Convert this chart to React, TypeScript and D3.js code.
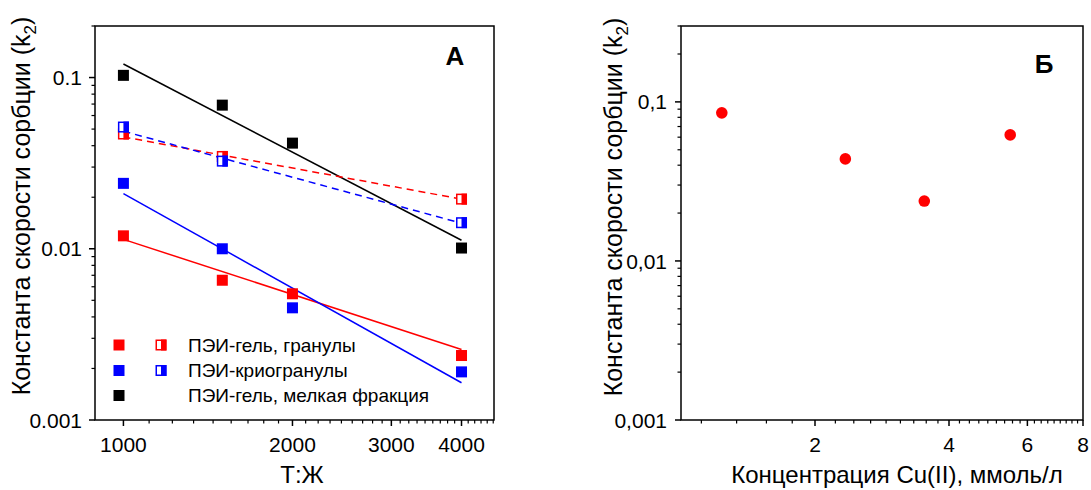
import React from "react";
import * as d3 from "d3";

// ---- Panel A data ----
const txRatios = [1000, 1500, 2000, 4000];
const gelGranulesK = [0.0119, 0.00655, 0.00546, 0.00238];
const cryoGranulesK = [0.0241, 0.01, 0.00452, 0.00191];
const fineFractionK = [0.103, 0.069, 0.0414, 0.0101];
const txHalfRatios = [1000, 1500, 4000];
const gelGranulesHalfK = [0.0468, 0.0346, 0.0195];
const cryoGranulesHalfK = [0.0514, 0.0325, 0.0142];
const fitX = [1000, 4000];
const fitGel = [0.01135, 0.00258];
const fitCryo = [0.021, 0.00165];
const fitFine = [0.12, 0.01122];
const fitGelHalf = [0.045, 0.0195];
const fitCryoHalf = [0.0486, 0.0141];
const xTicksA = [1000, 2000, 3000, 4000];
const yTicksA = [0.1, 0.01, 0.001];
const yTickLabelsA = ["0.1", "0.01", "0.001"];
const legendLabels = ["ПЭИ-гель, гранулы", "ПЭИ-криогранулы", "ПЭИ-гель, мелкая фракция"];

// ---- Panel B data ----
const cuConc = [1.235, 2.34, 3.52, 5.49];
const cuK = [0.0853, 0.0438, 0.0238, 0.062];
const xTicksB = [2, 4, 6, 8];
const yTicksB = [0.1, 0.01, 0.001];
const yTickLabelsB = ["0,1", "0,01", "0,001"];

const RED = "#ff0000";
const BLUE = "#0000ff";
const BLACK = "#000000";
const FONT = 'Arial, "Liberation Sans", sans-serif';

const TOP = 26;
const BOTTOM = 420;
const TICK_FS = 21;
const TITLE_FS = 24;
const YLAB_FS = 25;

function minorLogY(domain: number[]) {
  const out: number[] = [];
  for (let e = -4; e <= 1; e++) {
    for (let m = 2; m <= 9; m++) {
      const v = m * Math.pow(10, e);
      if (v > domain[0] * 1.0001 && v < domain[1] * 1.0001) out.push(v);
    }
  }
  return out;
}

function minorLinear(domain: number[], major: number, n: number) {
  const step = major / (n + 1);
  const out: number[] = [];
  for (let i = 0; i * step <= domain[1] * 1.0001; i++) {
    const v = i * step;
    if (i % (n + 1) === 0) continue;
    if (v > domain[0] * 1.001 && v < domain[1] * 1.0001) out.push(v);
  }
  return out;
}

function Sq({ x, y, c }: { x: number; y: number; c: string }) {
  return <rect x={x - 5.5} y={y - 5.5} width={11} height={11} fill={c} />;
}

function HalfSq({ x, y, c }: { x: number; y: number; c: string }) {
  return (
    <g>
      <rect x={x - 4.75} y={y - 4.75} width={9.5} height={9.5} fill="#fff" stroke={c} strokeWidth={1.5} />
      <rect x={x} y={y - 5.5} width={5.5} height={11} fill={c} />
    </g>
  );
}

function Frame({ x0, x1 }: { x0: number; x1: number }) {
  return <rect x={x0} y={TOP} width={x1 - x0} height={BOTTOM - TOP} fill="none" stroke="#000" strokeWidth={1.5} />;
}

function YLabel({ x, y }: { x: number; y: number }) {
  return (
    <text transform={`translate(${x},${y}) rotate(-90)`} textAnchor="middle" fontSize={YLAB_FS}>
      Константа скорости сорбции (k<tspan fontSize={17} dy={6}>2</tspan><tspan dy={-6}>)</tspan>
    </text>
  );
}

function PanelA() {
  const x = d3.scaleLog().domain([890, 4570]).range([95, 494]);
  const y = d3.scaleLog().domain([0.001, 0.2]).range([BOTTOM, TOP]);
  const line = (ys: number[]) =>
    d3.line<number>().x((_, i) => x(fitX[i])).y((d) => y(d))(ys) as string;
  const xMinor = minorLinear(x.domain(), 1000, 8);
  const yMinor = minorLogY(y.domain());
  return (
    <g>
      <path d={line(fitGel)} stroke={RED} strokeWidth={1.5} fill="none" />
      <path d={line(fitCryo)} stroke={BLUE} strokeWidth={1.5} fill="none" />
      <path d={line(fitFine)} stroke={BLACK} strokeWidth={1.5} fill="none" />
      <path d={line(fitGelHalf)} stroke={RED} strokeWidth={1.5} fill="none" strokeDasharray="7,5" />
      <path d={line(fitCryoHalf)} stroke={BLUE} strokeWidth={1.5} fill="none" strokeDasharray="7,5" />
      {txRatios.map((t, i) => <Sq key={"r" + i} x={x(t)} y={y(gelGranulesK[i])} c={RED} />)}
      {txRatios.map((t, i) => <Sq key={"b" + i} x={x(t)} y={y(cryoGranulesK[i])} c={BLUE} />)}
      {txRatios.map((t, i) => <Sq key={"k" + i} x={x(t)} y={y(fineFractionK[i])} c={BLACK} />)}
      {txHalfRatios.map((t, i) => <HalfSq key={"rh" + i} x={x(t)} y={y(gelGranulesHalfK[i])} c={RED} />)}
      {txHalfRatios.map((t, i) => <HalfSq key={"bh" + i} x={x(t)} y={y(cryoGranulesHalfK[i])} c={BLUE} />)}
      <Frame x0={95} x1={494} />
      {xMinor.map((v, i) => (
        <line key={"xm" + i} x1={x(v)} x2={x(v)} y1={BOTTOM} y2={BOTTOM + 3.5} stroke="#000" strokeWidth={1.2} />
      ))}
      {xTicksA.map((v) => (
        <g key={"xt" + v}>
          <line x1={x(v)} x2={x(v)} y1={BOTTOM} y2={BOTTOM + 6} stroke="#000" strokeWidth={1.5} />
          <text x={x(v)} y={452} textAnchor="middle" fontSize={TICK_FS}>{v}</text>
        </g>
      ))}
      {yMinor.map((v, i) => (
        <line key={"ym" + i} x1={95 - 3.5} x2={95} y1={y(v)} y2={y(v)} stroke="#000" strokeWidth={1.2} />
      ))}
      {yTicksA.map((v, i) => (
        <g key={"yt" + i}>
          <line x1={95 - 6} x2={95} y1={y(v)} y2={y(v)} stroke="#000" strokeWidth={1.5} />
          <text x={82} y={y(v)} dy="0.36em" textAnchor="end" fontSize={TICK_FS}>{yTickLabelsA[i]}</text>
        </g>
      ))}
      <Sq x={119} y={345} c={RED} />
      <HalfSq x={161} y={345} c={RED} />
      <Sq x={119} y={370.5} c={BLUE} />
      <HalfSq x={161} y={370.5} c={BLUE} />
      <Sq x={119} y={395.5} c={BLACK} />
      {legendLabels.map((l, i) => (
        <text key={"lg" + i} x={188} y={352 + i * 25} fontSize={19}>{l}</text>
      ))}
      <text x={455} y={65} textAnchor="middle" fontSize={26} fontWeight="bold">А</text>
      <text x={302} y={483} textAnchor="middle" fontSize={TITLE_FS}>Т:Ж</text>
      <YLabel x={30} y={206} />
    </g>
  );
}

function PanelB() {
  const x = d3.scaleLog().domain([1, 8]).range([681, 1083]);
  const y = d3.scaleLog().domain([0.001, 0.3]).range([BOTTOM, TOP]);
  const xMinor = minorLinear(x.domain(), 2, 8);
  const yMinor = minorLogY(y.domain());
  return (
    <g>
      {cuConc.map((c, i) => (
        <circle key={"p" + i} cx={x(c)} cy={y(cuK[i])} r={5.8} fill={RED} />
      ))}
      <Frame x0={681} x1={1083} />
      {xMinor.map((v, i) => (
        <line key={"xm" + i} x1={x(v)} x2={x(v)} y1={BOTTOM} y2={BOTTOM + 3.5} stroke="#000" strokeWidth={1.2} />
      ))}
      {xTicksB.map((v) => (
        <g key={"xt" + v}>
          <line x1={x(v)} x2={x(v)} y1={BOTTOM} y2={BOTTOM + 6} stroke="#000" strokeWidth={1.5} />
          <text x={x(v)} y={452} textAnchor="middle" fontSize={TICK_FS}>{v}</text>
        </g>
      ))}
      {yMinor.map((v, i) => (
        <line key={"ym" + i} x1={681 - 3.5} x2={681} y1={y(v)} y2={y(v)} stroke="#000" strokeWidth={1.2} />
      ))}
      {yTicksB.map((v, i) => (
        <g key={"yt" + i}>
          <line x1={681 - 6} x2={681} y1={y(v)} y2={y(v)} stroke="#000" strokeWidth={1.5} />
          <text x={667} y={y(v)} dy="0.36em" textAnchor="end" fontSize={TICK_FS}>{yTickLabelsB[i]}</text>
        </g>
      ))}
      <text x={1044} y={73} textAnchor="middle" fontSize={26} fontWeight="bold">Б</text>
      <text x={897} y={483} textAnchor="middle" fontSize={TITLE_FS}>Концентрация Cu(II), ммоль/л</text>
      <YLabel x={622} y={207} />
    </g>
  );
}

export default function App() {
  return (
    <>
      <style>{`body{margin:0}`}</style>
      <svg width={1091} height={490} style={{ display: "block", fontFamily: FONT }}>
        <rect width={1091} height={490} fill="#fff" />
        <PanelA />
        <PanelB />
      </svg>
    </>
  );
}
